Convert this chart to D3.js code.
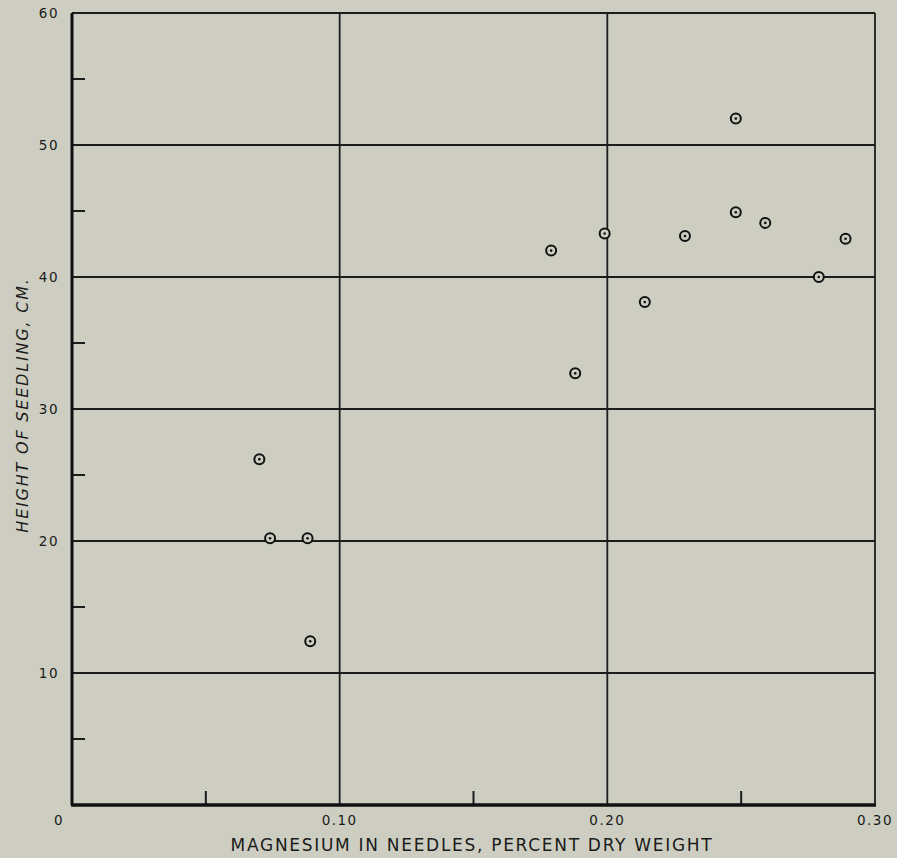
<!DOCTYPE html>
<html>
<head>
<meta charset="utf-8">
<script src="https://cdn.jsdelivr.net/npm/d3@7"></script>
<style>
  html, body { margin: 0; padding: 0; background: #cdcec1; }
  svg { display: block; }
  text { font-family: "DejaVu Sans", sans-serif; fill: #1a1a1a; }
</style>
</head>
<body>
<svg id="chart"></svg>
<script>
// magnesium (% dry weight) vs seedling height (cm)
var magnesium = [0.070, 0.074, 0.088, 0.089, 0.179, 0.188, 0.199, 0.214, 0.229, 0.248, 0.248, 0.259, 0.279, 0.289];
var height    = [26.2, 20.2, 20.2, 12.4, 42.0, 32.7, 43.3, 38.1, 43.1, 52.0, 44.9, 44.1, 40.0, 42.9];

var xMajor = [0.10, 0.20, 0.30];
var xMinor = [0.05, 0.15, 0.25];
var xLabels = ["0", "0.10", "0.20", "0.30"];
var yMajor = [10, 20, 30, 40, 50, 60];
var yMinor = [5, 15, 25, 35, 45, 55];
var yLabels = [10, 20, 30, 40, 50, 60];

var W = 897, H = 858;
var svg = d3.select("#chart").attr("width", W).attr("height", H);

var x = d3.scaleLinear().domain([0, 0.30]).range([72, 875]);
var y = d3.scaleLinear().domain([0, 60]).range([805, 13]);

var g = svg.append("g");

// grid lines
g.selectAll(".hgrid").data(yMajor).enter().append("line")
    .attr("x1", x(0)).attr("x2", x(0.30))
    .attr("y1", d => y(d)).attr("y2", d => y(d))
    .attr("stroke", "#1c1c1c").attr("stroke-width", 1.8);

g.selectAll(".vgrid").data(xMajor).enter().append("line")
    .attr("y1", y(0)).attr("y2", y(60))
    .attr("x1", d => x(d)).attr("x2", d => x(d))
    .attr("stroke", "#1c1c1c").attr("stroke-width", 1.8);

// minor ticks (inward)
g.selectAll(".ytick").data(yMinor).enter().append("line")
    .attr("x1", x(0)).attr("x2", x(0) + 13)
    .attr("y1", d => y(d)).attr("y2", d => y(d))
    .attr("stroke", "#1c1c1c").attr("stroke-width", 2);

g.selectAll(".xtick").data(xMinor).enter().append("line")
    .attr("y1", y(0)).attr("y2", y(0) - 14)
    .attr("x1", d => x(d)).attr("x2", d => x(d))
    .attr("stroke", "#1c1c1c").attr("stroke-width", 2);

// axes
g.append("line").attr("x1", x(0)).attr("x2", x(0)).attr("y1", y(0)).attr("y2", y(60))
    .attr("stroke", "#111").attr("stroke-width", 3);
g.append("line").attr("x1", x(0) - 1).attr("x2", x(0.30) + 1).attr("y1", y(0)).attr("y2", y(0))
    .attr("stroke", "#111").attr("stroke-width", 3.5);

// tick labels
g.selectAll(".ylab").data(yLabels).enter().append("text")
    .attr("x", 59).attr("y", d => y(d))
    .attr("dy", "0.35em").attr("text-anchor", "end")
    .style("font-size", "13.5px").style("letter-spacing", "1.5px").text(d => d);

var xLabPos = [0.0 , 0.10, 0.20, 0.30];
g.selectAll(".xlab").data(xLabels).enter().append("text")
    .attr("x", (d, i) => i === 0 ? x(0) - 13 : x(xLabPos[i]))
    .attr("y", 825)
    .attr("text-anchor", "middle")
    .style("font-size", "13.5px").style("letter-spacing", "1.5px").text(d => d);

// axis titles
svg.append("text")
    .attr("x", 472).attr("y", 851)
    .attr("text-anchor", "middle")
    .style("font-size", "17px").style("letter-spacing", "1.7px")
    .text("MAGNESIUM IN NEEDLES, PERCENT DRY WEIGHT");

svg.append("text")
    .attr("transform", "translate(28,405) rotate(-90)")
    .attr("text-anchor", "middle")
    .style("font-size", "16px").style("font-style", "italic").style("letter-spacing", "1.8px")
    .text("HEIGHT OF SEEDLING, CM.");

// points: circle with centre dot
var pts = g.selectAll(".pt").data(magnesium).enter().append("g")
    .attr("transform", (d, i) => "translate(" + x(d) + "," + y(height[i]) + ")");
pts.append("circle").attr("r", 5).attr("fill", "#cdcec1")
    .attr("stroke", "#111").attr("stroke-width", 2);
pts.append("circle").attr("r", 1.3).attr("fill", "#111");
</script>
</body>
</html>
